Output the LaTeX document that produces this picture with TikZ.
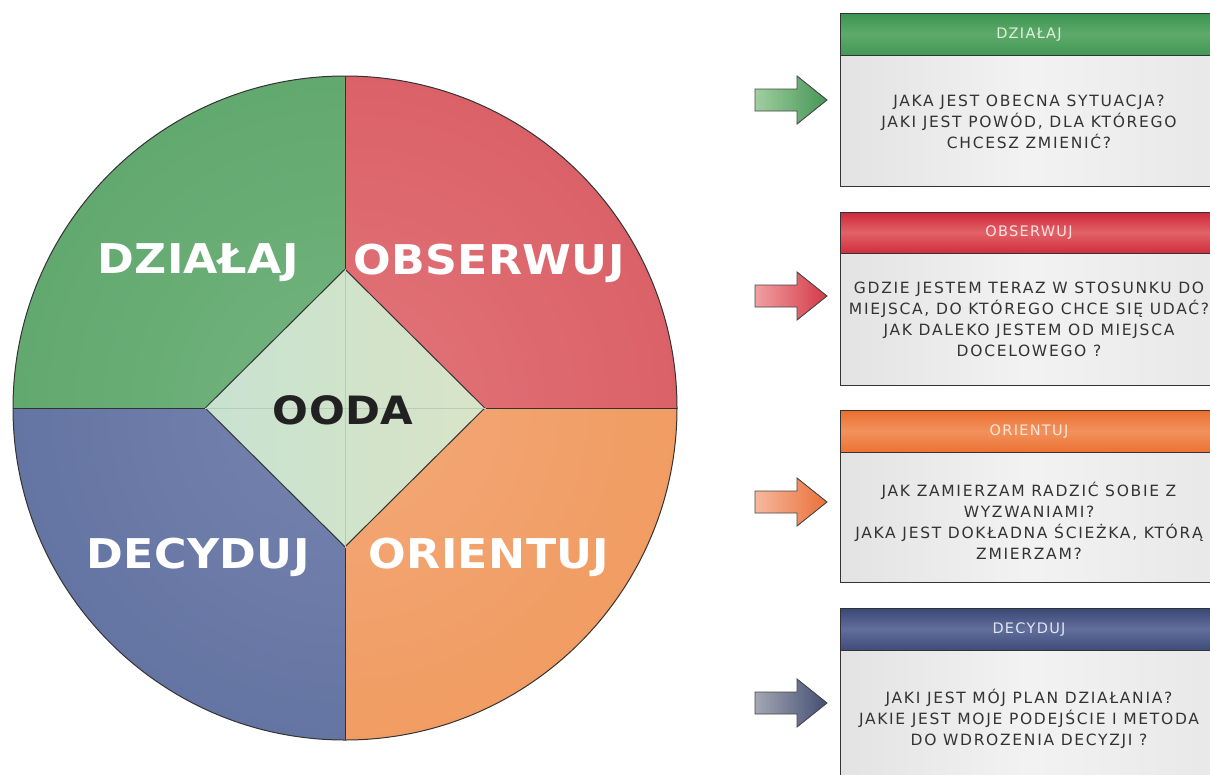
\documentclass[tikz,border=0pt]{standalone}
\usepackage{fontspec}
\setmainfont{DejaVu Sans}
\newfontfamily\qfont[LetterSpace=11]{DejaVu Sans}
\newfontfamily\hfont[LetterSpace=9]{DejaVu Sans}
\newfontfamily\bigfont[FakeStretch=1.08,LetterSpace=1]{DejaVu Sans}
\usetikzlibrary{shapes.geometric}

% quadrant colours: inner / middle / rim
\definecolor{gIn}{HTML}{74B47F}\definecolor{gMid}{HTML}{5EA66C}\definecolor{gOut}{HTML}{36924C}
\definecolor{rIn}{HTML}{E1767A}\definecolor{rMid}{HTML}{DA5D65}\definecolor{rOut}{HTML}{CC2A3A}
\definecolor{bIn}{HTML}{7683AE}\definecolor{bMid}{HTML}{6172A1}\definecolor{bOut}{HTML}{304C8C}
\definecolor{oIn}{HTML}{F3A878}\definecolor{oMid}{HTML}{F09A5E}\definecolor{oOut}{HTML}{EC842A}
\definecolor{outline}{HTML}{333333}
\definecolor{qgray}{HTML}{333333}
\definecolor{hubline}{RGB}{186,204,184}

\pgfdeclareradialshading{quadG}{\pgfpoint{0bp}{0bp}}{color(0bp)=(gIn); color(15bp)=(gMid); color(20bp)=(gMid); color(25bp)=(gOut); color(50bp)=(gOut)}
\pgfdeclareradialshading{quadR}{\pgfpoint{0bp}{0bp}}{color(0bp)=(rIn); color(15bp)=(rMid); color(20bp)=(rMid); color(25bp)=(rOut); color(50bp)=(rOut)}
\pgfdeclareradialshading{quadB}{\pgfpoint{0bp}{0bp}}{color(0bp)=(bIn); color(15bp)=(bMid); color(20bp)=(bMid); color(25bp)=(bOut); color(50bp)=(bOut)}
\pgfdeclareradialshading{quadO}{\pgfpoint{0bp}{0bp}}{color(0bp)=(oIn); color(15bp)=(oMid); color(20bp)=(oMid); color(25bp)=(oOut); color(50bp)=(oOut)}

\tikzset{
  bigword/.style={text=white, font=\bigfont\fontsize{41}{41}\selectfont\bfseries, inner sep=0pt},
  hdrbox/.style={draw=outline, line width=0.9pt, minimum width=380pt, inner sep=0pt, shade},
  bodybox/.style={draw=outline, line width=0.9pt, minimum width=380pt, inner sep=0pt, shade,
     left color=black!11, right color=black!9, middle color=black!5},
  hdrtext/.style={font=\hfont\fontsize{14.5}{16}\selectfont, inner sep=0pt},
  qtext/.style={align=center, text=qgray, font=\qfont\fontsize{15.5}{21}\selectfont, inner sep=0pt},
  blockarrow/.style={draw=outline!90, line width=0.9pt, line join=miter},
}

% block arrow pointing right, centred vertically on #1
\newcommand\oodaArrow[3]{%
  \shade[blockarrow, left color=#2, right color=#3]
    (755,#1-11) -- (797,#1-11) -- (797,#1-24) -- (827,#1) -- (797,#1+24)
    -- (797,#1+11) -- (755,#1+11) -- cycle;}

\begin{document}
\begin{tikzpicture}[x=1pt, y=-1pt]
\useasboundingbox (0,0) rectangle (1210,774);
\fill[white] (0,0) rectangle (1210,774);

% ---- OODA wheel ----
\coordinate (c) at (345,408);
\begin{scope}
  \clip (c) circle (332);
  \begin{scope}\clip (0,0) rectangle (345,408);
    \shade[shading=quadG] (c) circle (664);\end{scope}
  \begin{scope}\clip (345,0) rectangle (700,408);
    \shade[shading=quadR] (c) circle (664);\end{scope}
  \begin{scope}\clip (0,408) rectangle (345,774);
    \shade[shading=quadB] (c) circle (664);\end{scope}
  \begin{scope}\clip (345,408) rectangle (700,774);
    \shade[shading=quadO] (c) circle (664);\end{scope}
\end{scope}
\draw[outline, line width=1pt] (c) circle (332);
\draw[outline, line width=1pt] (13,408) -- (677,408) (345,76) -- (345,740);

% centre diamond
\node[diamond, shape aspect=1, minimum width=280pt, minimum height=278pt, inner sep=0pt,
      draw=outline, line width=1pt, shade, left color={rgb,255:red,200;green,226;blue,208},
      right color={rgb,255:red,216;green,228;blue,198}] (hub) at (c) {};
\draw[draw=hubline, line width=0.9pt]
  (hub.north) -- (hub.south) (hub.west) -- (hub.east);
\node[font=\bigfont\fontsize{39}{39}\selectfont\bfseries, text=black!87, inner sep=0pt] (oodaword) at (343,410) {OODA};

\node[bigword] (wAct) at (198,263) {DZIAŁAJ};
\node[bigword] (wObs) at (489,263) {OBSERWUJ};
\node[bigword] (wDec) at (198,557) {DECYDUJ};
\node[bigword] (wOri) at (489,557) {ORIENTUJ};

% ---- question boxes ----
\node[hdrbox, minimum height=42pt, top color={rgb,255:red,60;green,148;blue,80},
      bottom color={rgb,255:red,66;green,152;blue,84}, middle color={rgb,255:red,94;green,170;blue,106}]
      (h1) at (1030,34) {};
\node[bodybox, minimum height=131pt] (b1) at (1030,120.5) {};
\node[hdrtext, text={rgb,255:red,222;green,240;blue,222}] (ht1) at (1029,35) {DZIAŁAJ};
\node[qtext] (q1) at (1029,122) {JAKA JEST OBECNA SYTUACJA?\\JAKI JEST POWÓD, DLA KTÓREGO\\CHCESZ ZMIENIĆ?};

\node[hdrbox, minimum height=41pt, top color={rgb,255:red,205;green,40;blue,56},
      bottom color={rgb,255:red,208;green,46;blue,60}, middle color={rgb,255:red,226;green,98;blue,104}]
      (h2) at (1030,232.5) {};
\node[bodybox, minimum height=132pt] (b2) at (1030,319) {};
\node[hdrtext, text={rgb,255:red,255;green,226;blue,226}] (ht2) at (1029,233) {OBSERWUJ};
\node[qtext] (q2) at (1029,319) {GDZIE JESTEM TERAZ W STOSUNKU DO\\MIEJSCA, DO KTÓREGO CHCE SIĘ UDAĆ?\\JAK DALEKO JESTEM OD MIEJSCA\\DOCELOWEGO ?};

\node[hdrbox, minimum height=42pt, top color={rgb,255:red,234;green,110;blue,46},
      bottom color={rgb,255:red,236;green,114;blue,50}, middle color={rgb,255:red,242;green,146;blue,94}]
      (h3) at (1030,431) {};
\node[bodybox, minimum height=130pt] (b3) at (1030,517) {};
\node[hdrtext, text={rgb,255:red,255;green,230;blue,218}] (ht3) at (1029,432) {ORIENTUJ};
\node[qtext] (q3) at (1029,521) {JAK ZAMIERZAM RADZIĆ SOBIE Z\\WYZWANIAMI?\\JAKA JEST DOKŁADNA ŚCIEŻKA, KTÓRĄ\\ZMIERZAM?};

\node[hdrbox, minimum height=42pt, top color={rgb,255:red,58;green,72;blue,118},
      bottom color={rgb,255:red,62;green,76;blue,122}, middle color={rgb,255:red,98;green,110;blue,156}]
      (h4) at (1030,629) {};
\node[bodybox, minimum height=160pt] (b4) at (1030,730) {};
\node[hdrtext, text={rgb,255:red,226;green,230;blue,242}] (ht4) at (1029,630) {DECYDUJ};
\node[qtext] (q4) at (1029,719) {JAKI JEST MÓJ PLAN DZIAŁANIA?\\JAKIE JEST MOJE PODEJŚCIE I METODA\\DO WDROZENIA DECYZJI ?};

% ---- pointers towards the boxes ----
\oodaArrow{100}{{rgb,255:red,160;green,206;blue,160}}{{rgb,255:red,70;green,150;blue,86}}
\oodaArrow{296}{{rgb,255:red,240;green,160;blue,162}}{{rgb,255:red,212;green,56;blue,70}}
\oodaArrow{502}{{rgb,255:red,246;green,184;blue,158}}{{rgb,255:red,234;green,112;blue,56}}
\oodaArrow{703}{{rgb,255:red,164;green,168;blue,180}}{{rgb,255:red,66;green,78;blue,114}}
\end{tikzpicture}
\end{document}
